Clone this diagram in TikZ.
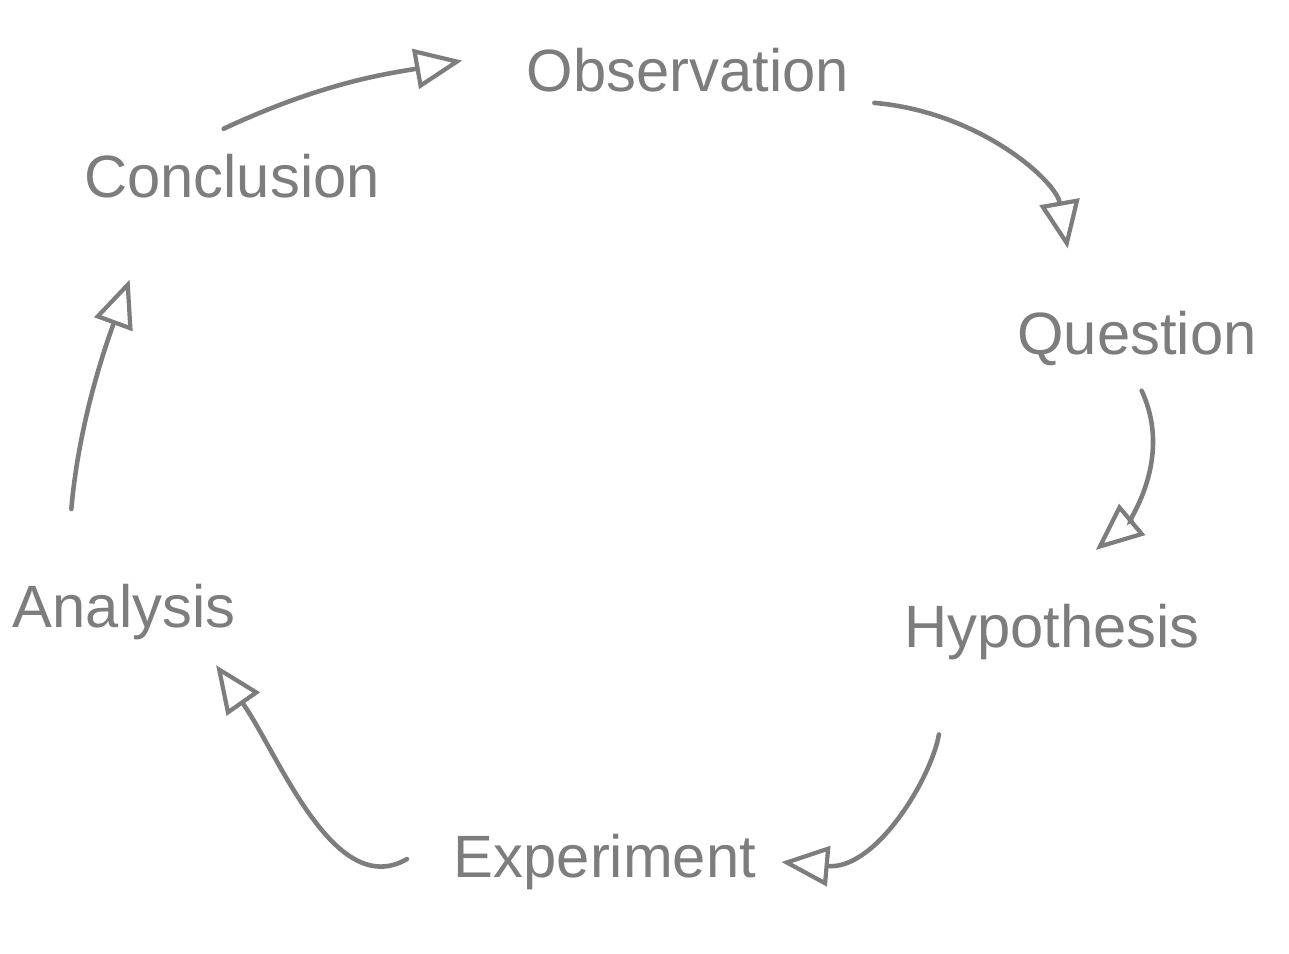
\documentclass[tikz,border=0pt]{standalone}
\usepackage{fontspec}
\setmainfont{Liberation Sans}
\usetikzlibrary{arrows.meta}
\definecolor{pencil}{RGB}{125,125,125}
\tikzset{
  word/.style={inner sep=0.5cm,text=pencil,font=\fontsize{34}{40}\selectfont},
  arr/.style={pencil,line width=2.6pt,line cap=round,
    -{Triangle[open,length=0.95cm,width=0.8cm,line width=2.4pt]}}
}
\begin{document}
\begin{tikzpicture}[x=0.02cm,y=0.02cm]
\useasboundingbox[fill=white] (0,0) rectangle (1289,-954);

% Steps
\node[word] (obs) at (688,-70) {Observation};
\node[word] (quest) at (1137,-338) {Question};
\node[word] (hyp) at (1052,-632) {Hypothesis};
\node[word] (exp) at (605,-862) {Experiment};
\node[word] (anal) at (124,-612) {Analysis};
\node[word] (concl) at (232,-176) {Conclusion};

% Cycle arrows
\draw[arr,shorten >=0.8cm] (concl.100) to[out=25,in=190] (obs.175);
\draw[arr,shorten >=0.75cm] (obs.-10) to[out=-5,in=100] (quest.140);
\draw[arr,shorten >=0.9cm] (quest.-85) to[out=-65,in=40] (hyp.80);
\draw[arr,shorten <=1cm] (hyp.207) to[out=-100,in=-5] (exp.east);
\draw[arr,shorten <=0.5cm] (exp.175) to[out=210,in=-55] (anal.-30);
\draw[arr,shorten <=1cm,shorten >=1.2cm] (anal.137) to[out=85,in=-110] (concl.210);
\end{tikzpicture}
\end{document}
